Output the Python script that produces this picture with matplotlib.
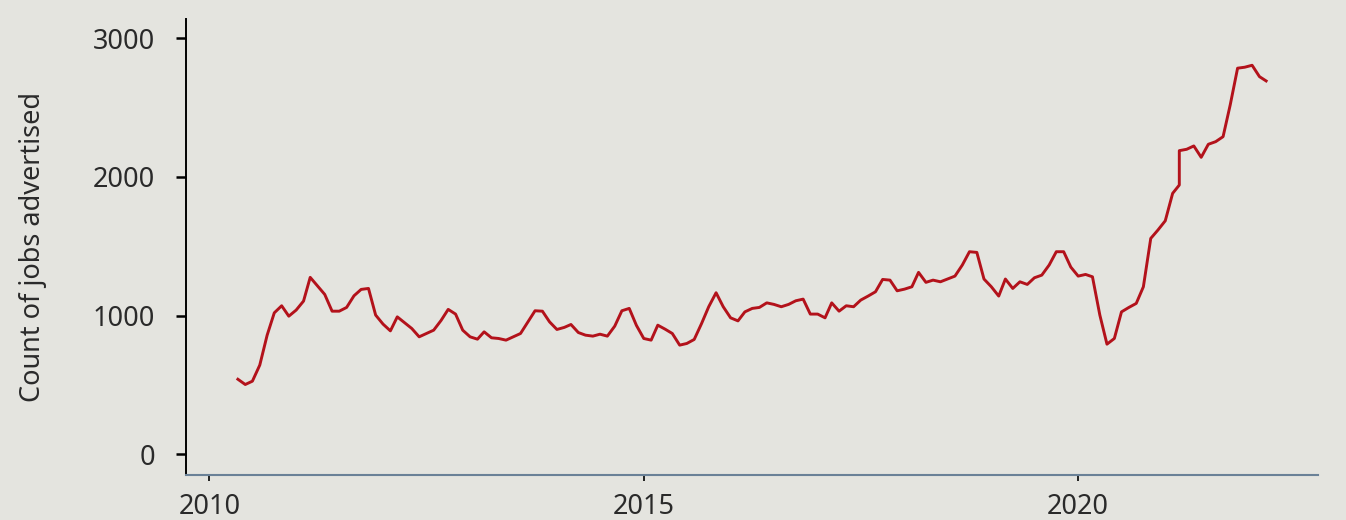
import numpy as np
import pandas as pd
import matplotlib
matplotlib.use("Agg")
import matplotlib.pyplot as plt

# Monthly counts of jobs advertised, May 2010 - Mar 2022
# (March 2021 appears twice: the series steps up within that month)
months = list(pd.date_range("2010-05-01", "2022-03-01", freq="MS"))
months.insert(months.index(pd.Timestamp("2021-03-01")), pd.Timestamp("2021-03-01"))

counts = [
    # 2010 (May-Dec)
    541, 503, 527, 643, 859, 1020, 1071, 996,
    # 2011
    1040, 1105, 1276, 1213, 1153, 1032, 1032, 1059, 1143, 1189, 1196, 1004,
    # 2012
    939, 890, 991, 948, 907, 847, 871, 895, 965, 1045, 1011, 895,
    # 2013
    847, 830, 883, 840, 835, 823, 847, 871, 955, 1035, 1032, 955,
    # 2014
    900, 915, 936, 878, 859, 852, 866, 852, 924, 1035, 1052, 930,
    # 2015
    835, 823, 931, 902, 871, 787, 799, 828, 943, 1064, 1165, 1064,
    # 2016
    984, 962, 1027, 1052, 1059, 1092, 1081, 1064, 1081, 1107, 1119, 1011,
    # 2017
    1011, 984, 1092, 1032, 1071, 1064, 1112, 1141, 1172, 1261, 1256, 1179,
    # 2018
    1191, 1208, 1312, 1240, 1256, 1244, 1264, 1285, 1365, 1461, 1456, 1264,
    # 2019
    1208, 1141, 1264, 1196, 1244, 1225, 1273, 1292, 1365, 1461, 1461, 1350,
    # 2020
    1285, 1297, 1280, 1004, 794, 835, 1027, 1059, 1088, 1208, 1557, 1617,
    # 2021 (March twice)
    1684, 1882, 1942, 2190, 2200, 2224, 2142, 2236, 2255, 2291, 2520, 2785, 2792,
    # 2022 (Jan-Mar)
    2806, 2724, 2693,
]

y_ticks = [0, 1000, 2000, 3000]
x_tick_years = [2010, 2015, 2020]

bg = "#e4e4df"
txt = "#2a2a2a"
plt.rcParams["font.family"] = ["Noto Sans", "DejaVu Sans"]

fig = plt.figure(figsize=(13.46, 5.2), dpi=100, facecolor=bg)
ax = fig.add_axes([0.1382, 0.0865, 0.841, 0.877])
ax.set_facecolor(bg)

ax.plot(months, counts, color="#b3121b", linewidth=2.1)

ax.set_ylim(-150, 3140)
ax.set_xlim(pd.Timestamp("2009-09-25"), pd.Timestamp("2022-10-05"))
ax.set_yticks(y_ticks)
ax.set_xticks([pd.Timestamp(f"{y}-01-01") for y in x_tick_years])
ax.set_xticklabels([str(y) for y in x_tick_years])

for s in ["top", "right"]:
    ax.spines[s].set_visible(False)
ax.spines["left"].set_color("black")
ax.spines["left"].set_linewidth(1.4)
ax.spines["bottom"].set_color("#6a8197")
ax.spines["bottom"].set_linewidth(1.5)

ax.tick_params(axis="y", length=7.5, width=1.8, pad=15, labelsize=19.5, colors="black", labelcolor=txt)
ax.tick_params(axis="x", length=4, width=1.2, pad=9, labelsize=19.5, colors="black", labelcolor=txt)

ax.set_ylabel("Count of jobs advertised", fontsize=19.5, color=txt)
ax.yaxis.set_label_coords(-0.1228, 0.5)

fig.savefig("out.png", dpi=100, facecolor=bg)
